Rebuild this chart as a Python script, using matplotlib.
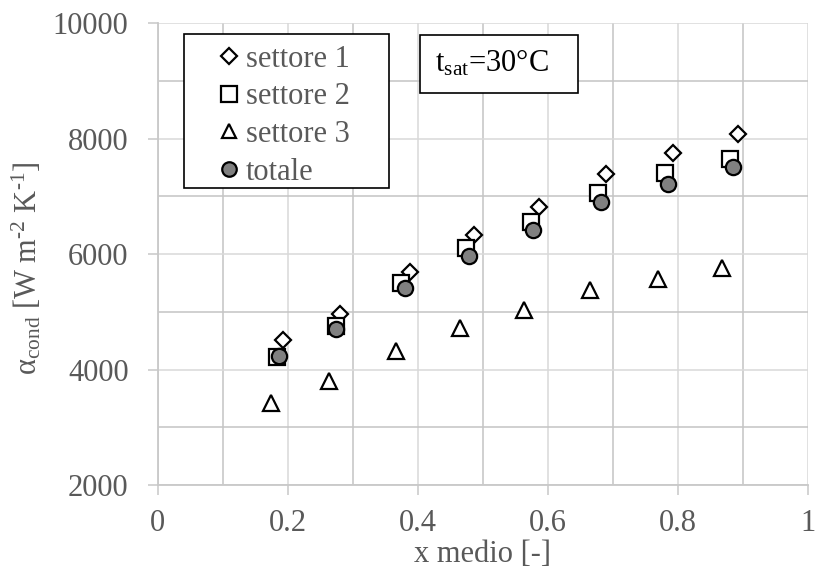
import matplotlib
matplotlib.use("Agg")
import matplotlib.pyplot as plt
from matplotlib.patches import Rectangle
from matplotlib.ticker import MultipleLocator

plt.rcParams['font.family'] = ['Liberation Serif', 'DejaVu Serif']
plt.rcParams['mathtext.fontset'] = 'custom'
plt.rcParams['mathtext.rm'] = 'Liberation Serif'
plt.rcParams['mathtext.it'] = 'Liberation Serif:italic'
plt.rcParams['mathtext.bf'] = 'Liberation Serif:bold'

# Heat transfer coefficient vs mean vapour quality, per sector and total
x_s1 = [0.192, 0.281, 0.388, 0.486, 0.586, 0.689, 0.793, 0.892]
y_s1 = [4510, 4970, 5695, 6330, 6820, 7390, 7755, 8080]
x_s2 = [0.184, 0.274, 0.375, 0.475, 0.574, 0.677, 0.781, 0.881]
y_s2 = [4220, 4755, 5495, 6100, 6560, 7055, 7400, 7650]
x_s3 = [0.174, 0.263, 0.366, 0.465, 0.563, 0.665, 0.770, 0.868]
y_s3 = [3415, 3800, 4320, 4725, 5025, 5380, 5570, 5765]
x_tot = [0.186, 0.275, 0.381, 0.479, 0.578, 0.682, 0.785, 0.885]
y_tot = [4235, 4700, 5405, 5975, 6420, 6910, 7215, 7515]

labels = ['settore 1', 'settore 2', 'settore 3', 'totale']
x_ticks = [0, 0.2, 0.4, 0.6, 0.8, 1]
x_ticklabels = ['0', '0.2', '0.4', '0.6', '0.8', '1']
y_ticks = [2000, 4000, 6000, 8000, 10000]

text_gray = '#595959'
fs = 22

fig = plt.figure(figsize=(8.16, 5.79), dpi=100)
ax = fig.add_axes([0.1933, 0.1623, 0.7966, 0.7975])

ax.set_xlim(0, 1)
ax.set_ylim(2000, 10000)
ax.xaxis.set_minor_locator(MultipleLocator(0.1))
ax.yaxis.set_minor_locator(MultipleLocator(1000))
ax.set_xticks(x_ticks)
ax.set_xticklabels(x_ticklabels)
ax.set_yticks(y_ticks)

ax.grid(which='major', color='#d9d9d9', linewidth=1.1, zorder=0)
ax.grid(which='minor', color='#c4c4c4', linewidth=1.1, zorder=0)
ax.set_axisbelow(True)

for side in ('top', 'right'):
    ax.spines[side].set_visible(False)
for side in ('left', 'bottom'):
    ax.spines[side].set_color('#c8c8c8')
    ax.spines[side].set_linewidth(1.3)

ax.tick_params(which='major', direction='out', length=7, width=1.1,
               color='#c8c8c8', labelsize=fs, labelcolor=text_gray)
ax.tick_params(axis='x', which='major', pad=10)
ax.tick_params(axis='y', which='major', pad=14)
ax.tick_params(which='minor', length=0)

mk = dict(linestyle='none', markeredgecolor='black', markeredgewidth=1.6)
ax.plot(x_s1, y_s1, marker='D', markersize=8.5, markerfacecolor='white',
        label=labels[0], zorder=3, **mk)
ax.plot(x_s2, y_s2, marker='s', markersize=11.5, markerfacecolor='white',
        label=labels[1], zorder=4, **mk)
ax.plot(x_s3, y_s3, marker='^', markersize=11, markerfacecolor='white',
        label=labels[2], zorder=4, **mk)
ax.plot(x_tot, y_tot, marker='o', markersize=11, markerfacecolor='#808080',
        label=labels[3], zorder=5, **mk)

# legend frame drawn as its own box, entries placed inside it
leg_box = Rectangle((0.0405, 0.6433), 0.3158, 0.3335, transform=ax.transAxes,
                    facecolor='white', edgecolor='black', linewidth=1.2,
                    zorder=9)
ax.add_patch(leg_box)
leg = ax.legend(loc='upper left', bbox_to_anchor=(0.0932, 0.9539),
                borderaxespad=0, borderpad=0, fontsize=fs, frameon=False,
                handlelength=0.7, handletextpad=0.2, labelspacing=0.285,
                markerscale=0.95)
for t in leg.get_texts():
    t.set_color(text_gray)
leg.set_zorder(10)

box = Rectangle((0.4035, 0.8493), 0.2426, 0.1262, transform=ax.transAxes,
                facecolor='white', edgecolor='black', linewidth=1.2, zorder=9)
ax.add_patch(box)
ax.text(0.4262, 0.913, r'$\mathrm{t_{sat}}$=30°C', transform=ax.transAxes,
        fontsize=fs, color='black', va='center', ha='left', zorder=11)

ax.set_xlabel('x medio [-]', fontsize=fs, color=text_gray, labelpad=2)
ax.set_ylabel(r'$\mathrm{\alpha_{cond}}$ [W m$^{\text{-2}}$ K$^{\text{-1}}$]',
              fontsize=fs, color=text_gray)
ax.yaxis.set_label_coords(-0.176, 0.47)

fig.savefig('out.png', dpi=100)
